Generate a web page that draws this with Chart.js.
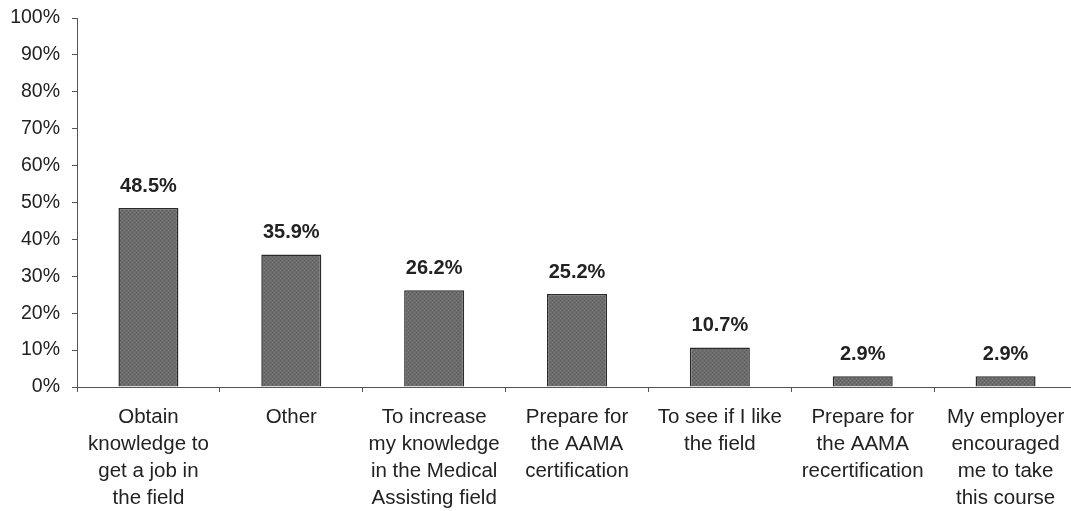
<!DOCTYPE html>
<html>
<head>
<meta charset="utf-8">
<script src="https://cdn.jsdelivr.net/npm/chart.js@4.4.0/dist/chart.umd.min.js"></script>
<style>
  html, body { margin: 0; padding: 0; background: #fff; overflow: hidden; }
  #wrap { width: 1077px; height: 511px; }
</style>
</head>
<body>
<div id="wrap"><canvas id="chart"></canvas></div>
<script>
const categories = [
  ["Obtain", "knowledge to", "get a job in", "the field"],
  ["Other"],
  ["To increase", "my knowledge", "in the Medical", "Assisting field"],
  ["Prepare for", "the AAMA", "certification"],
  ["To see if I like", "the field"],
  ["Prepare for", "the AAMA", "recertification"],
  ["My employer", "encouraged", "me to take", "this course"]
];
const percents = [48.5, 35.9, 26.2, 25.2, 10.7, 2.9, 2.9];
const yTicks = [0, 10, 20, 30, 40, 50, 60, 70, 80, 90, 100];

// small dotted texture like the printed bars
function barPattern() {
  const c = document.createElement("canvas");
  c.width = 4; c.height = 4;
  const g = c.getContext("2d");
  g.fillStyle = "#6c6c6c";
  g.fillRect(0, 0, 4, 4);
  g.fillStyle = "#5c5c5c";
  g.fillRect(0, 0, 1, 1);
  g.fillRect(2, 2, 1, 1);
  g.fillStyle = "#7a7a7a";
  g.fillRect(2, 0, 1, 1);
  g.fillRect(0, 2, 1, 1);
  return g.createPattern(c, "repeat");
}

// value labels above each bar
const barLabels = {
  id: "barLabels",
  afterDatasetsDraw(chart) {
    const ctx = chart.ctx;
    const meta = chart.getDatasetMeta(0);
    ctx.save();
    ctx.font = "bold 20px 'Liberation Sans', Arial, sans-serif";
    ctx.fillStyle = "#222";
    ctx.textAlign = "center";
    ctx.textBaseline = "middle";
    meta.data.forEach((bar, i) => {
      ctx.fillText(percents[i].toFixed(1) + "%", bar.x, bar.y - 22);
    });
    ctx.restore();
  }
};

new Chart(document.getElementById("chart"), {
  type: "bar",
  data: {
    labels: categories,
    datasets: [{
      data: percents,
      backgroundColor: barPattern(),
      borderColor: "#2a2a2a",
      borderWidth: 1.5,
      categoryPercentage: 1,
      barPercentage: 0.42
    }]
  },
  options: {
    responsive: true,
    maintainAspectRatio: false,
    animation: false,
    layout: { padding: { top: 18, left: 0, right: 0, bottom: 0 } },
    plugins: { legend: { display: false }, tooltip: { enabled: false } },
    scales: {
      x: {
        grid: { display: true, drawOnChartArea: false, drawTicks: true, tickLength: 5, color: "#555", offset: true },
        border: { color: "#555", width: 1 },
        ticks: {
          color: "#222",
          font: { family: "'Liberation Sans', Arial, sans-serif", size: 20.5, lineHeight: 1.32 },
          padding: 12,
          maxRotation: 0,
          autoSkip: false
        },
        afterFit(scale) { scale.height = 124; scale.paddingLeft = 0; scale.paddingRight = 0; }
      },
      y: {
        min: 0,
        max: 100,
        afterBuildTicks(scale) { scale.ticks = yTicks.map(v => ({ value: v })); },
        grid: { display: true, drawOnChartArea: false, drawTicks: true, tickLength: 5, color: "#555" },
        border: { color: "#555", width: 1 },
        ticks: {
          color: "#222",
          font: { family: "'Liberation Sans', Arial, sans-serif", size: 19.5 },
          padding: 12,
          callback: v => v + "%"
        },
        afterFit(scale) { scale.width = 77; scale.paddingTop = 0; scale.paddingBottom = 0; }
      }
    }
  },
  plugins: [barLabels]
});
</script>
</body>
</html>
